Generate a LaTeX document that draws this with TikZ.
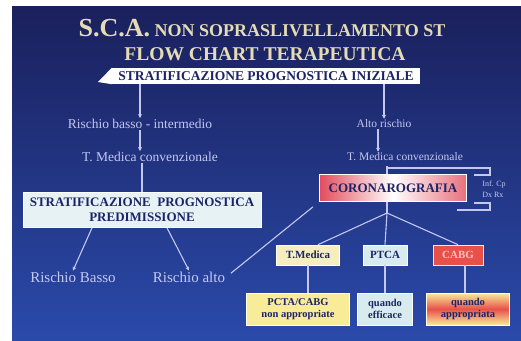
\documentclass[tikz,border=0pt]{standalone}
\usepackage{fontspec}
\setmainfont{Liberation Serif}
\usepackage{xcolor}
\usetikzlibrary{arrows.meta,positioning}

\definecolor{navy}{HTML}{1C2466}
\definecolor{bgtop}{HTML}{1A205C}
\definecolor{bgbot}{HTML}{2A4AAA}
\definecolor{lav}{HTML}{C4C8F0}
\definecolor{gold}{HTML}{E6DCB4}
\definecolor{cream}{HTML}{F6EEC0}
\definecolor{pale}{HTML}{D8ECF0}
\definecolor{ice}{HTML}{E6F2F4}
\definecolor{lemon}{HTML}{F8EC98}
\definecolor{cabred}{HTML}{E8504A}
\definecolor{corored}{HTML}{E24C5C}

\begin{document}
\begin{tikzpicture}[x=1pt,y=-1pt,
  note/.style={text=lav, inner sep=1pt, font=\fontsize{11.5}{13}\selectfont},
  bignote/.style={note, font=\fontsize{13.5}{15}\selectfont},
  box/.style={draw=white, line width=0.7pt, inner sep=1pt, text=navy,
    align=center, font=\bfseries\fontsize{11}{11.5}\selectfont},
  twoline/.style={box, minimum height=32pt, font=\bfseries\fontsize{10.5}{11.5}\selectfont},
  link/.style={draw=lav, line width=1.1pt},
  >={Stealth[length=4pt,width=4pt]}
]
\useasboundingbox (0,0) rectangle (521,340);
\fill[white] (0,0) rectangle (521,340);
\shade[top color=bgtop, bottom color=bgbot] (12,6) rectangle (521,340);

% titolo
\node[text=gold, font=\bfseries\fontsize{18}{20}\selectfont] (title) at (262,28)
  {{\fontsize{26}{28}\selectfont S.C.A.} NON SOPRASLIVELLAMENTO ST};
\node[text=gold, font=\bfseries\fontsize{19.5}{21}\selectfont] (subtitle) at (265,54)
  {FLOW CHART TERAPEUTICA};

% stratificazione iniziale
\node[fill=white, minimum width=308pt, minimum height=16pt, inner sep=0pt,
  text=navy, font=\bfseries\fontsize{13.5}{14}\selectfont] (banner) at (266,76)
  {STRATIFICAZIONE PROGNOSTICA INIZIALE};
\fill[white] (banner.north west) -- (98,82) -- (banner.south west) -- cycle;

% ramo sinistro
\node[bignote] (basso) at (140,124) {Rischio basso - intermedio};
\node[bignote] (tmed1) at (150,157) {T. Medica convenzionale};
\node[box, fill=ice, minimum width=238pt, minimum height=35pt,
  font=\bfseries\fontsize{13}{15}\selectfont] (predim) at (142,210)
  {STRATIFICAZIONE\ \ PROGNOSTICA\\PREDIMISSIONE};
\node[note, font=\fontsize{15}{17}\selectfont] (rbasso) at (73,277) {Rischio Basso};
\node[note, font=\fontsize{15}{17}\selectfont] (ralto) at (189,277) {Rischio alto};

% ramo destro
\coordinate (trunk) at (387,166);
\coordinate (split) at (387,213);
\draw[link] (trunk) -- (split);
\node[note] (alto) at (384,124) {Alto rischio};
\node[note] (tmed2) at (405,157) {T. Medica convenzionale};
\node[box, left color=corored, right color=corored!80, middle color=white,
  minimum width=147pt, minimum height=27pt,
  font=\bfseries\fontsize{13}{14}\selectfont] (coro) at (393,188) {CORONAROGRAFIA};
\node[note, align=left, font=\fontsize{8}{11}\selectfont] (infcp) at (494,189)
  {Inf. Cp\\Dx Rx};

\node[box, fill=cream, minimum width=63pt, minimum height=20pt] (tmb) at (308,255) {T.Medica};
\node[box, fill=pale, minimum width=44pt, minimum height=20pt] (ptb) at (385,255) {PTCA};
\node[box, fill=cabred, draw=cream, minimum width=50pt, minimum height=20pt,
  text=red!25!white] (cab) at (458,255) {CABG};

\node[twoline, fill=lemon, minimum width=103pt] (nonapp) at (298,309)
  {PCTA/CABG\\non appropriate};
\node[twoline, fill=pale, minimum width=55pt] (effic) at (385,309)
  {quando\\efficace};
\node[twoline, top color=lemon, bottom color=lemon, middle color=cabred,
  minimum width=83pt] (approp) at (468,309)
  {quando\\appropriata};

% connessioni
\draw[link, ->] (basso.north |- banner.south) -- (basso.north);
\draw[link, ->] (basso.south) -- (basso.south |- tmed1.north);
\draw[link] (tmed1.south -| predim.north) -- (predim.north);
\draw[link, ->] ([xshift=-50pt]predim.south) -- (rbasso.north);
\draw[link, ->] ([xshift=25pt]predim.south) -- (ralto.north);
\draw[link, shorten <=6pt, shorten >=8pt] (ralto.east) -- (coro.south west);

\draw[link, ->] (alto.north |- banner.south) -- (alto.north);
\draw[link, ->] ([xshift=-6pt]alto.south) -- ([xshift=-6pt]alto.south |- tmed2.north);
\draw[link] (387,168) -| (490,175) -- (474,175);
\draw[link] (474,203) -- (490,203) |- (457,210);

\draw[link] (split) -- ([xshift=10pt]tmb.north);
\draw[link] (split) -- (ptb.north);
\draw[link] (split) -- (cab.north);
\draw[link] (tmb.south) -- (tmb.south |- nonapp.north);
\draw[link] (ptb.south) -- (effic.north);
\draw[link] ([xshift=7pt]cab.south) -- ([xshift=7pt]cab.south |- approp.north);
\end{tikzpicture}
\end{document}
